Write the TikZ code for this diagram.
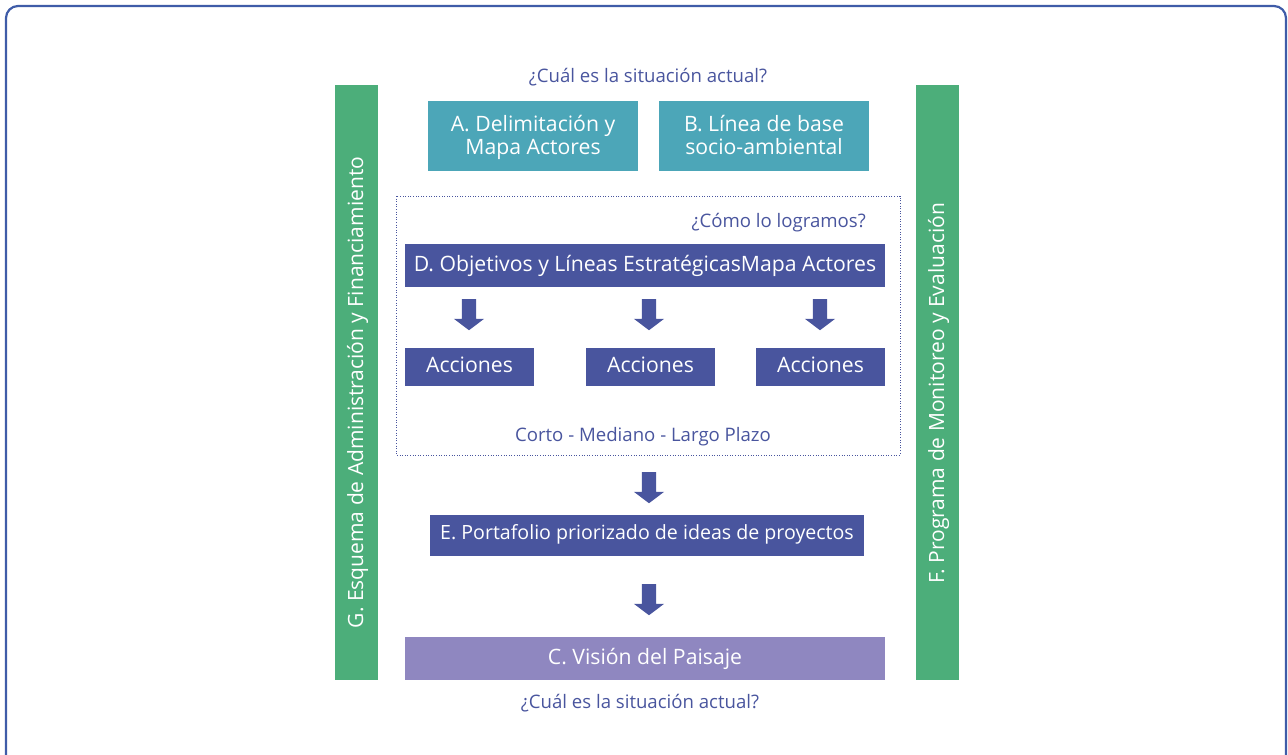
\documentclass[tikz,border=0pt]{standalone}
\usepackage{fontspec}
\setmainfont{Open Sans}
\usetikzlibrary{positioning,shapes.arrows}
\definecolor{frameblue}{RGB}{63,92,168}
\definecolor{bargreen}{RGB}{76,174,122}
\definecolor{tealfill}{RGB}{76,166,184}
\definecolor{darkfill}{RGB}{73,85,158}
\definecolor{lilacfill}{RGB}{143,135,192}

\begin{document}
\begin{tikzpicture}[x=1pt,y=-1pt,
  box/.style={inner sep=0pt,outer sep=0pt,text=white,align=center,font=\fontsize{21.2}{23}\selectfont},
  teal box/.style={box,fill=tealfill,minimum width=210pt,minimum height=70pt,text height=41pt,text depth=3.6pt},
  dark box/.style={box,fill=darkfill,minimum height=43pt,text height=16.5pt,text depth=4.5pt},
  act box/.style={box,fill=darkfill,minimum width=129pt,minimum height=38pt,text height=15pt,text depth=5pt},
  side bar/.style={box,fill=bargreen,minimum width=43pt,minimum height=595pt},
  bar text/.style={rotate=90,text=white,inner sep=0pt,font=\fontsize{21}{24}\selectfont},
  ask/.style={text=darkfill,inner sep=0pt,font=\fontsize{18.6}{22}\selectfont},
  down arrow/.style={single arrow,fill=darkfill,draw=none,rotate=-90,inner xsep=0pt,inner ysep=7pt,
    outer sep=0pt,text height=0pt,text depth=0pt,
    minimum height=31pt,single arrow head extend=8pt,single arrow tip angle=106}]

  \useasboundingbox (0,0) rectangle (1288,755);
  \begin{scope}
    \clip (0,0) rectangle (1288,755);
    \draw[frameblue,line width=2.2pt,rounded corners=12pt] (6,6) rectangle (1286,790);
  \end{scope}

  % side bars
  \node[side bar,anchor=north west] (G) at (335,85) {};
  \node[bar text] (Gtxt) at ([xshift=1pt,yshift=-10pt]G.center) {G. Esquema de Administración y Financiamiento};
  \node[side bar,anchor=north west] (F) at (916,85) {};
  \node[bar text] (Ftxt) at ([xshift=1pt,yshift=-11pt]F.center) {F. Programa de Monitoreo y Evaluación};

  % diagnostico
  \node[ask] (q1) at (648,77) {¿Cuál es la situación actual?};
  \node[teal box,anchor=north west] (A) at (428,101) {A. Delimitación y\\Mapa Actores};
  \node[teal box,right=21pt of A] (B) {B. Línea de base\\socio-ambiental};

  % planificacion
  \draw[darkfill,line width=1pt,dash pattern=on 1pt off 1.6pt] (396,196) rectangle (900,455);
  \node[ask,anchor=east] (q2) at (866,223) {¿Cómo lo logramos?};
  \node[dark box,minimum width=480pt,anchor=north west] (D) at (405,244) {D. Objetivos y Líneas EstratégicasMapa Actores};

  \node[down arrow] (d1) at (469,312) {};
  \node[down arrow] (d2) at (649,312) {};
  \node[down arrow] (d3) at (820,312) {};

  \node[act box,anchor=north west] (ac1) at (405,348) {Acciones};
  \node[act box,anchor=north west] (ac2) at (586,348) {Acciones};
  \node[act box,anchor=north west] (ac3) at (756,348) {Acciones};
  \node[ask] (plazo) at (643,437) {Corto - Mediano - Largo Plazo};

  \node[down arrow] (d4) at (649,485) {};
  \node[dark box,minimum width=434pt,minimum height=41pt,text height=15pt,text depth=7.4pt,
    font=\fontsize{19.6}{23}\selectfont,anchor=north west] (E) at (430,515) {E. Portafolio priorizado de ideas de proyectos};
  \node[down arrow] (d5) at (649,597) {};

  \node[dark box,fill=lilacfill,minimum width=480pt,anchor=north west] (C) at (405,637) {C. Visión del Paisaje};
  \node[ask] (q3) at (640,703) {¿Cuál es la situación actual?};

\end{tikzpicture}
\end{document}
